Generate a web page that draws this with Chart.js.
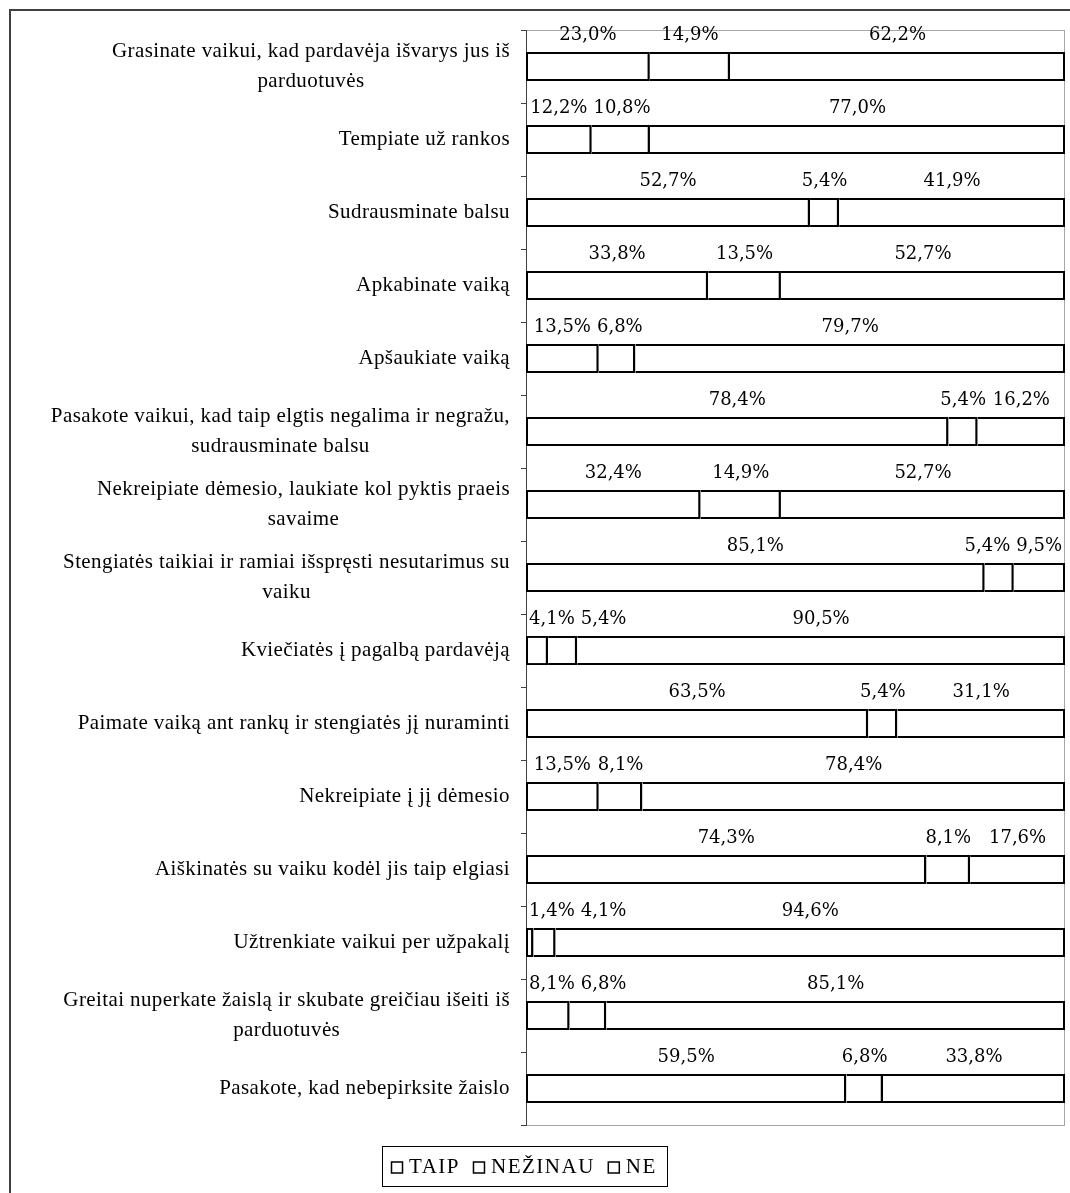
<!DOCTYPE html>
<html>
<head>
<meta charset="utf-8">
<script src="https://cdn.jsdelivr.net/npm/chart.js@4.4.1/dist/chart.umd.min.js"></script>
<style>
  body { margin: 0; background: #fff; overflow: hidden; }
  canvas { display: block; }
</style>
</head>
<body>
<canvas id="mychart" width="1070" height="1193"></canvas>
<script>
// categories (already split into lines as on the picture)
const categories = [
    ['Grasinate vaikui, kad pardavėja išvarys jus iš', 'parduotuvės'],
    ['Tempiate už rankos'],
    ['Sudrausminate balsu'],
    ['Apkabinate vaiką'],
    ['Apšaukiate vaiką'],
    ['Pasakote vaikui, kad taip elgtis negalima ir negražu,', 'sudrausminate balsu'],
    ['Nekreipiate dėmesio, laukiate kol pyktis praeis', 'savaime'],
    ['Stengiatės taikiai ir ramiai išspręsti nesutarimus su', 'vaiku'],
    ['Kviečiatės į pagalbą pardavėją'],
    ['Paimate vaiką ant rankų ir stengiatės jį nuraminti'],
    ['Nekreipiate į jį dėmesio'],
    ['Aiškinatės su vaiku kodėl jis taip elgiasi'],
    ['Užtrenkiate vaikui per užpakalį'],
    ['Greitai nuperkate žaislą ir skubate greičiau išeiti iš', 'parduotuvės'],
    ['Pasakote, kad nebepirksite žaislo']
];
const seriesNames = ['TAIP', 'NEŽINAU', 'NE'];
const taip = [23.0, 12.2, 52.7, 33.8, 13.5, 78.4, 32.4, 85.1, 4.1, 63.5, 13.5, 74.3, 1.4, 8.1, 59.5];
const nezinau = [14.9, 10.8, 5.4, 13.5, 6.8, 5.4, 14.9, 5.4, 5.4, 5.4, 8.1, 8.1, 4.1, 6.8, 6.8];
const ne = [62.2, 77.0, 41.9, 52.7, 79.7, 16.2, 52.7, 9.5, 90.5, 31.1, 78.4, 17.6, 94.6, 85.1, 33.8];

const rawSeries = [taip, nezinau, ne];
// 100% stacked: each row scaled to its own total
const rowTotals = taip.map((v, i) => taip[i] + nezinau[i] + ne[i]);

const labelFont = '21px "Liberation Serif", serif';
const valueFont = '18px "DejaVu Serif", serif';

function fmtPct(v) {
    return v.toFixed(1).replace('.', ',') + '%';
}

// outer frame and plot box
const framePlugin = {
    id: 'frame',
    beforeDraw(chart) {
        const ctx = chart.ctx;
        const a = chart.chartArea;
        ctx.save();
        ctx.fillStyle = '#fff';
        ctx.fillRect(0, 0, chart.width, chart.height);
        ctx.strokeStyle = '#404040';
        ctx.lineWidth = 2;
        ctx.beginPath();
        ctx.moveTo(10, chart.height);
        ctx.lineTo(10, 10);
        ctx.lineTo(chart.width, 10);
        ctx.stroke();
        ctx.strokeStyle = '#a6a6a6';
        ctx.lineWidth = 1;
        ctx.strokeRect(Math.round(a.left) + 0.5, Math.round(a.top) + 0.5, Math.round(a.right - a.left) - 1, Math.round(a.bottom - a.top));
        ctx.restore();
    }
};

// percent labels above each segment, pushed apart when they touch
const valueLabels = {
    id: 'valueLabels',
    afterDatasetsDraw(chart) {
        const ctx = chart.ctx;
        const a = chart.chartArea;
        const gap = 6;
        ctx.save();
        ctx.font = valueFont;
        ctx.fillStyle = '#000';
        ctx.textAlign = 'left';
        ctx.textBaseline = 'middle';
        categories.forEach((c, i) => {
            let items = [];
            chart.data.datasets.forEach((ds, d) => {
                const el = chart.getDatasetMeta(d).data[i];
                const p = el.getProps(['x', 'base', 'y', 'height'], true);
                const text = fmtPct(rawSeries[d][i]);
                const w = ctx.measureText(text).width;
                items.push({ text: text, w: w, left: (p.x + p.base) / 2 - w / 2, y: p.y - p.height / 2 - 17 });
            });
            let prevRight = a.left + 3 - gap;
            items.forEach(it => {
                if (it.left < prevRight + gap) it.left = prevRight + gap;
                prevRight = it.left + it.w;
            });
            let limit = a.right - 3;
            for (let j = items.length - 1; j >= 0; j--) {
                if (items[j].left + items[j].w > limit) items[j].left = limit - items[j].w;
                limit = items[j].left - gap;
            }
            items.forEach(it => ctx.fillText(it.text, it.left, it.y));
        });
        ctx.restore();
    }
};

// category names: block right aligned to the axis, lines centred within it
const categoryLabels = {
    id: 'categoryLabels',
    afterDraw(chart) {
        const ctx = chart.ctx;
        const yScale = chart.scales.y;
        const rightEdge = chart.chartArea.left - 16;
        ctx.save();
        ctx.font = labelFont;
        ctx.letterSpacing = '0.4px';
        ctx.fillStyle = '#000';
        ctx.textAlign = 'center';
        ctx.textBaseline = 'middle';
        categories.forEach((lines, i) => {
            const y = yScale.getPixelForValue(i);
            const maxW = Math.max(...lines.map(l => ctx.measureText(l).width));
            const cx = rightEdge - maxW / 2;
            lines.forEach((l, k) => {
                ctx.fillText(l, cx, y + (k - (lines.length - 1) / 2) * 30);
            });
        });
        ctx.restore();
    }
};

// boxed legend at the bottom
const boxLegend = {
    id: 'boxLegend',
    afterDraw(chart) {
        const ctx = chart.ctx;
        const sq = 11, textGap = 7, itemGap = 13, padL = 9, padR = 10;
        const top = 1146, h = 40, centerX = 524;
        ctx.save();
        ctx.font = '21px "Liberation Serif", serif';
        ctx.letterSpacing = '1.5px';
        const widths = seriesNames.map(n => ctx.measureText(n).width);
        let total = 0;
        widths.forEach((w, i) => { total += sq + textGap + w + (i > 0 ? itemGap : 0); });
        const boxW = total + padL + padR;
        const left = Math.round(centerX - boxW / 2);
        ctx.strokeStyle = '#000';
        ctx.lineWidth = 1;
        ctx.strokeRect(left + 0.5, top + 0.5, Math.round(boxW), h);
        let x = left + padL;
        const midY = top + h / 2 + 1;
        ctx.fillStyle = '#000';
        ctx.textAlign = 'left';
        ctx.textBaseline = 'middle';
        seriesNames.forEach((n, i) => {
            ctx.fillStyle = '#fff';
            ctx.fillRect(x + 0.5, midY - sq / 2 + 0.5, sq, sq);
            ctx.lineWidth = 1.5;
            ctx.strokeRect(x + 0.5, midY - sq / 2 + 0.5, sq, sq);
            ctx.fillStyle = '#000';
            ctx.fillText(n, x + sq + textGap, midY);
            x += sq + textGap + widths[i] + itemGap;
        });
        ctx.restore();
    }
};

const lastSeries = seriesNames.length - 1;
const datasets = seriesNames.map((name, d) => ({
    label: name,
    data: rawSeries[d].map((v, i) => v / rowTotals[i] * 100),
    backgroundColor: '#ffffff',
    borderColor: '#000000',
    // each shared edge is drawn once, as the right border of the left segment
    borderWidth: { top: 2, bottom: 2, left: d === 0 ? 2 : 0, right: d === lastSeries ? 2 : 2.5 },
    borderSkipped: false,
    inflateAmount: 0,
    barPercentage: 0.4,
    categoryPercentage: 1.0
}));

let myChart = document.getElementById('mychart').getContext('2d');

let surveyChart = new Chart(myChart, {
    type: 'bar',
    data: {
        labels: categories.map(c => c.join(' ')),
        datasets: datasets
    },
    options: {
        indexAxis: 'y',
        responsive: false,
        animation: false,
        layout: {
            padding: { left: 0, top: 30, right: 5, bottom: 68 }
        },
        plugins: {
            legend: { display: false },
            tooltip: { enabled: false }
        },
        scales: {
            x: {
                stacked: true,
                min: 0,
                max: 100,
                display: false
            },
            y: {
                stacked: true,
                afterFit: (scale) => { scale.width = 526; },
                ticks: { display: false },
                grid: {
                    drawOnChartArea: false,
                    drawTicks: true,
                    tickLength: 5,
                    color: '#404040',
                    offset: true
                },
                border: { display: true, color: '#404040', width: 1 }
            }
        }
    },
    plugins: [framePlugin, valueLabels, categoryLabels, boxLegend]
});
</script>
</body>
</html>
